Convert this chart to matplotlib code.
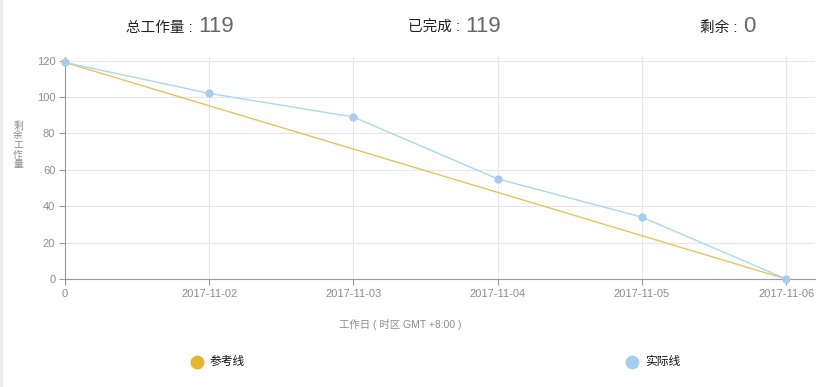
import matplotlib.pyplot as plt
import matplotlib.patches as mpatches

plt.rcParams['font.family'] = ['Liberation Sans', 'Noto Sans CJK SC', 'DejaVu Sans']

# data
x_labels = ['0', '2017-11-02', '2017-11-03', '2017-11-04', '2017-11-05', '2017-11-06']
ref_line = [119, 95.2, 71.4, 47.6, 23.8, 0]
actual_line = [119, 102, 89, 55, 34, 0]
summary_names = ['总工作量', '已完成', '剩余']
summary_values = [119, 119, 0]
legend_names = ['参考线', '实际线']

REF_COLOR = '#e8c35a'
ACT_COLOR = '#a9d6f2'
MARK_COLOR = '#a6cdec'
AXIS_GRAY = '#999999'
TEXT_GRAY = '#8c8c8c'

fig = plt.figure(figsize=(8.35, 3.87), dpi=100)
fig.patch.set_facecolor('white')
# light border at left edge
fig.add_artist(mpatches.Rectangle((0, 0), 3 / 835, 1, transform=fig.transFigure,
                                  color='#ececec', lw=0))

ax = fig.add_axes([65 / 835, 1 - 279 / 387, 750 / 835, 222 / 387])
xs = list(range(len(x_labels)))
ax.plot(xs, ref_line, color=REF_COLOR, lw=1, zorder=3)
ax.plot(xs, actual_line, color=ACT_COLOR, lw=1, zorder=3)
ax.plot(xs, actual_line, ls='none', marker='o', ms=5, color=MARK_COLOR,
        mec=MARK_COLOR, zorder=4, clip_on=False)

ax.set_xlim(0, 5.2)
ax.set_ylim(0, 122)
ax.set_xticks(xs)
ax.set_xticklabels(x_labels)
ax.set_yticks(range(0, 121, 20))
ax.grid(True, color='#e6e6e6', lw=0.8)
ax.set_axisbelow(True)
for s in ['top', 'right']:
    ax.spines[s].set_visible(False)
for s in ['left', 'bottom']:
    ax.spines[s].set_color(AXIS_GRAY)
    ax.spines[s].set_linewidth(0.8)
ax.tick_params(axis='both', colors=AXIS_GRAY, labelcolor=TEXT_GRAY, labelsize=8,
               length=4, width=0.8, pad=3)

# y label as stacked characters
fig.text(18 / 835, 1 - 145 / 387, '\n'.join('剩余工作量'), ha='center', va='center',
         fontsize=7, color=TEXT_GRAY, linespacing=0.95)
fig.text(400 / 835, 1 - 325 / 387, '工作日 ( 时区 GMT +8:00 )', ha='center', va='center',
         fontsize=7.5, color=TEXT_GRAY)

# summary header
centers = [197, 464, 742]
for cx, name, val in zip(centers, summary_names, summary_values):
    fig.text(cx / 835, 1 - 32 / 387, name + ' : ', ha='right', va='baseline',
             fontsize=10.5, color='#222222')
    fig.text((cx + 1) / 835, 1 - 32 / 387, str(val), ha='left', va='baseline',
             fontsize=16, color='#666666')

# legend
leg_x = [197, 632]
leg_colors = ['#e8b32e', '#a6cdec']
for lx, name, c in zip(leg_x, legend_names, leg_colors):
    fig.add_artist(plt.Line2D([lx / 835], [1 - 362 / 387], marker='o', ms=9,
                              color=c, mec=c, ls='none', transform=fig.transFigure))
    fig.text((lx + 13) / 835, 1 - 362 / 387, name, ha='left', va='center',
             fontsize=8.5, color='#111111')

fig.savefig('out.png', dpi=100)
